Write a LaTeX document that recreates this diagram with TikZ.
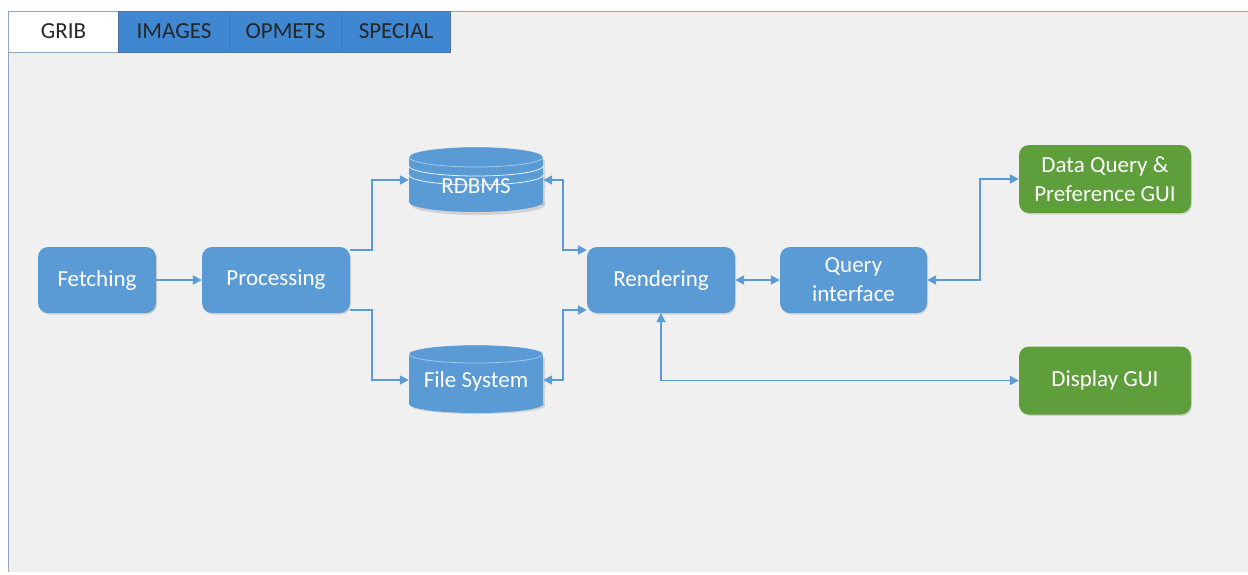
\documentclass[tikz,border=0pt]{standalone}
\usepackage{fontspec}
\setmainfont{Carlito}
\usetikzlibrary{arrows.meta,shadows}
\definecolor{obl}{HTML}{5B9BD5}
\definecolor{ogr}{HTML}{5E9E3B}
\definecolor{tabbl}{HTML}{3F87D1}
\definecolor{tabbd}{HTML}{4F73A0}
\definecolor{panel}{HTML}{F0F0F0}
\definecolor{pborder}{HTML}{8FA7C0}
\begin{document}
\begin{tikzpicture}[x=1pt,y=-1pt,
  tab/.style={draw=tabbd,line width=1pt,minimum width=110pt,minimum height=41pt,inner sep=0pt,
    font=\fontsize{23}{27}\selectfont,text=black!85},
  bbox/.style={fill=obl,rounded corners=10pt,minimum height=66pt,inner sep=0pt,align=center,
    text=white,font=\fontsize{23}{29}\selectfont,
    drop shadow={shadow xshift=1pt,shadow yshift=-1.5pt,opacity=0.25}},
  gbox/.style={bbox,fill=ogr,minimum width=172pt,minimum height=68pt},
  cylbox/.style={minimum width=134pt,inner sep=0pt,text=white,font=\fontsize{23}{29}\selectfont},
  conn/.style={draw=obl,line width=1.8pt,arrows={-Triangle[length=9pt,width=9pt]}},
  conn2/.style={conn,arrows={Triangle[length=9pt,width=9pt]-Triangle[length=9pt,width=9pt]}}]
\useasboundingbox (0,0) rectangle (1248,574);
\fill[white] (0,0) rectangle (1248,574);
\fill[panel] (8,11) rectangle (1248,572);
\draw[pborder,line width=1pt] (8,572) -- (8,11) -- (1248,11);
% tabs
\node[tab,fill=white,draw=pborder] (grib) at (63.5,31.5) {GRIB};
\node[tab,fill=tabbl,minimum width=111pt] (images) at (174,31.5) {IMAGES};
\node[tab,fill=tabbl,minimum width=112pt] (opmets) at (285.5,31.5) {OPMETS};
\node[tab,fill=tabbl,minimum width=109pt] (special) at (396,31.5) {SPECIAL};
% boxes
\node[bbox,minimum width=118pt] (fetch) at (97,280) {Fetching};
\node[bbox,minimum width=148pt] (proc) at (276,280) {Processing};
\node[bbox,minimum width=148pt] (rend) at (661,280) {Rendering};
\node[bbox,minimum width=147pt] (query) at (853.5,280) {Query\\interface};
\node[gbox] (dq) at (1105,179) {Data Query \&\\Preference GUI};
\node[gbox] (disp) at (1105,380.5) {Display GUI};
% RDBMS cylinder
\fill[black,opacity=0.12] (411,160) rectangle (545,205);
\fill[black,opacity=0.12] (478,205) ellipse[x radius=67,y radius=10];
\fill[obl] (409,157) rectangle (543,202);
\fill[obl] (476,202) ellipse[x radius=67,y radius=10];
\fill[obl] (476,157) ellipse[x radius=67,y radius=10];
\draw[white,opacity=0.5,line width=0.7pt] (476,157) ellipse[x radius=67,y radius=10];
\draw[white,opacity=0.85,line width=0.8pt] plot[domain=0:180,samples=40,variable=\t] ({476+67*cos(\t)},{166+10*sin(\t)});
\draw[white,opacity=0.85,line width=0.8pt] plot[domain=0:180,samples=40,variable=\t] ({476+67*cos(\t)},{175+10*sin(\t)});
\node[cylbox,minimum height=65pt] (rdbms) at (476,180) {};
\node[cylbox] (rdbmst) at (476,186) {RDBMS};
% File system cylinder
\fill[black,opacity=0.12] (411,358) rectangle (545,406);
\fill[black,opacity=0.12] (478,406) ellipse[x radius=67,y radius=8];
\fill[obl] (409,353) rectangle (543,404);
\fill[obl] (476,404) ellipse[x radius=67,y radius=9];
\fill[obl] (476,354) ellipse[x radius=67,y radius=9];
\draw[white,opacity=0.5,line width=0.7pt] (476,354) ellipse[x radius=67,y radius=9];
\node[cylbox,minimum height=68pt] (fs) at (476,380) {};
\node[cylbox] (fst) at (476,381) {File System};
% connectors
\draw[conn] (fetch) -- (proc);
\draw[conn] ([yshift=30pt]proc.east) -- ++(22,0) |- (rdbms.west);
\draw[conn] ([yshift=-30pt]proc.east) -- ++(22,0) |- (fs.west);
\draw[conn2] (rdbms.east) -- ++(20,0) |- ([yshift=30pt]rend.west);
\draw[conn2] (fs.east) -- ++(20,0) |- ([yshift=-30pt]rend.west);
\draw[conn2] (rend) -- (query);
\draw[conn2] (query.east) -- ++(53,0) |- (dq.west);
\draw[conn2] (rend.south) |- (disp.west);
\end{tikzpicture}
\end{document}
